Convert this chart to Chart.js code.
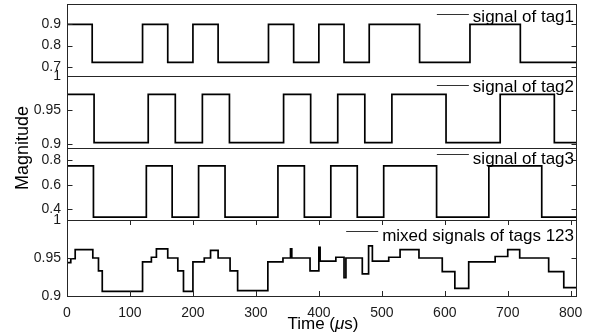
<!DOCTYPE html>
<html>
<head>
<meta charset="utf-8">
<script src="https://cdn.jsdelivr.net/npm/chart.js@4.4.1/dist/chart.umd.min.js"></script>
<style>
  body { margin: 0; background: #fff; }
  #wrap { width: 590px; height: 335px; }
</style>
</head>
<body>
<div id="wrap"><canvas id="tags" width="590" height="335"></canvas></div>
<script>
// time axis (microseconds)
const tEnd = 810;
const timeTicks = [0, 100, 200, 300, 400, 500, 600, 700, 800];

// tag 1: switching times and levels
const tag1Times = [0, 40, 120, 160, 200, 240, 320, 360, 400, 440, 480, 560, 640, 720];
const tag1Levels = [0.9, 0.72, 0.9, 0.72, 0.9, 0.72, 0.9, 0.72, 0.9, 0.72, 0.9, 0.72, 0.9, 0.72];
const tag1Ticks = [0.7, 0.8, 0.9];

// tag 2
const tag2Times = [0, 43, 129, 172, 215, 258, 344, 387, 430, 473, 516, 602, 688, 774];
const tag2Levels = [0.973, 0.902, 0.973, 0.902, 0.973, 0.902, 0.973, 0.902, 0.973, 0.902, 0.973, 0.902, 0.973, 0.902];
const tag2Ticks = [0.9, 0.95, 1];

// tag 3
const tag3Times = [0, 42, 126, 167, 209, 251, 335, 377, 419, 461, 503, 587, 670, 754];
const tag3Levels = [0.755, 0.335, 0.755, 0.335, 0.755, 0.335, 0.755, 0.335, 0.755, 0.335, 0.755, 0.335, 0.755, 0.335];
const tag3Ticks = [0.4, 0.6, 0.8];

// mixed signal of tags 1,2,3
const mixTimes = [0, 6, 13, 41, 50, 56, 120, 134, 142, 160, 176, 185, 200, 218, 228, 240, 259, 271,
  319, 343, 355, 357, 386, 400, 402, 427, 440, 443, 469, 479, 485, 511, 529, 559, 596, 616, 638,
  680, 700, 719, 765, 789];
const mixLevels = [0.944, 0.949, 0.961, 0.950, 0.933, 0.906, 0.945, 0.951, 0.962, 0.950, 0.933, 0.906,
  0.945, 0.950, 0.960, 0.950, 0.933, 0.907, 0.945, 0.950, 0.962, 0.950, 0.933, 0.964, 0.946, 0.951,
  0.924, 0.950, 0.929, 0.966, 0.946, 0.951, 0.961, 0.950, 0.932, 0.910, 0.945, 0.952, 0.961, 0.950,
  0.932, 0.911];
const mixTicks = [0.9, 0.95, 1];

const legendLabels = ['signal of tag1', 'signal of tag2', 'signal of tag3', 'mixed signals of tags 123'];

const FRAME = '#262626';
const FONT = '"Liberation Sans", Arial, sans-serif';
Chart.defaults.font.family = FONT;
Chart.defaults.color = '#1a1a1a';

// turn switching times into points for a stepped line
function steps(times, levels) {
  const pts = times.map((t, i) => ({ x: t, y: levels[i] }));
  pts.push({ x: tEnd, y: levels[levels.length - 1] });
  return pts;
}

function signal(times, levels, axis) {
  return {
    data: steps(times, levels),
    yAxisID: axis,
    borderColor: '#000',
    borderWidth: 1.7,
    pointRadius: 0,
    stepped: true,
    fill: false
  };
}

function yAxis(min, max, ticks, weight) {
  return {
    type: 'linear',
    position: 'left',
    stack: 'panels',
    stackWeight: weight,
    min: min,
    max: max,
    bounds: 'data',
    grid: { display: false, drawTicks: false },
    border: { display: false },
    ticks: {
      autoSkip: false,
      padding: 6,
      font: { size: 14 },
      callback: v => String(v)
    },
    afterBuildTicks: s => { s.ticks = ticks.map(v => ({ value: v })); },
    afterFit: s => { s.width = 67; s.paddingTop = 0; s.paddingBottom = 0; }
  };
}

// panel info used by the frame plugin, top to bottom
const panels = [
  { axis: 'y1', ticks: tag1Ticks, label: legendLabels[0], base: 17.5, line: 9.5 },
  { axis: 'y2', ticks: tag2Ticks, label: legendLabels[1], base: 16, line: 9 },
  { axis: 'y3', ticks: tag3Ticks, label: legendLabels[2], base: 16, line: 6 },
  { axis: 'y4', ticks: mixTicks, label: legendLabels[3], base: 21, line: 11 }
];

function seg(ctx, x1, y1, x2, y2) {
  ctx.beginPath();
  ctx.moveTo(x1, y1);
  ctx.lineTo(x2, y2);
  ctx.stroke();
}

const panelFrames = {
  id: 'panelFrames',
  afterDatasetsDraw(chart) {
    const { ctx, chartArea: a, scales } = chart;
    ctx.save();
    ctx.strokeStyle = FRAME;
    ctx.lineWidth = 1;
    const L = a.left + 0.5, R = a.right - 0.5;
    panels.forEach(p => {
      const s = scales[p.axis];
      ctx.strokeRect(L, Math.round(s.top) + 0.5, R - L, Math.round(s.bottom) - Math.round(s.top));
      // inward ticks on both sides
      p.ticks.forEach(v => {
        const y = Math.round(s.getPixelForValue(v)) + 0.5;
        seg(ctx, L, y, L + 5, y);
        seg(ctx, R - 5, y, R, y);
      });
    });
    // time ticks on the bottom panel, top and bottom edges
    const bottom = scales.y4;
    timeTicks.forEach(t => {
      const x = Math.round(scales.x.getPixelForValue(t)) + 0.5;
      seg(ctx, x, Math.round(bottom.top), x, Math.round(bottom.top) + 5);
      seg(ctx, x, Math.round(bottom.bottom), x, Math.round(bottom.bottom) - 5);
    });

    // legends, top right of each panel
    ctx.font = '17px ' + FONT;
    ctx.fillStyle = '#000';
    ctx.textAlign = 'right';
    ctx.textBaseline = 'alphabetic';
    ctx.strokeStyle = '#333';
    panels.forEach(p => {
      const s = scales[p.axis];
      const xr = a.right - 3;
      const w = ctx.measureText(p.label).width;
      ctx.fillText(p.label, xr, s.top + p.base);
      const ly = Math.round(s.top + p.line) + 0.5;
      seg(ctx, xr - w - 36, ly, xr - w - 4, ly);
    });

    // y title
    ctx.save();
    ctx.translate(28, 148);
    ctx.rotate(-Math.PI / 2);
    ctx.textAlign = 'center';
    ctx.font = '18px ' + FONT;
    ctx.fillText('Magnitude', 0, 0);
    ctx.restore();

    // x title with italic mu
    const parts = [['Time (', ''], ['\u03bc', 'italic '], ['s)', '']];
    let total = 0;
    parts.forEach(pt => { ctx.font = pt[1] + '17px ' + FONT; total += ctx.measureText(pt[0]).width; });
    let x = (a.left + a.right) / 2 + 1 - total / 2;
    ctx.textAlign = 'left';
    parts.forEach(pt => {
      ctx.font = pt[1] + '17px ' + FONT;
      ctx.fillText(pt[0], x, 329);
      x += ctx.measureText(pt[0]).width;
    });
    ctx.restore();
  }
};

new Chart(document.getElementById('tags'), {
  type: 'line',
  data: {
    datasets: [
      signal(tag1Times, tag1Levels, 'y1'),
      signal(tag2Times, tag2Levels, 'y2'),
      signal(tag3Times, tag3Levels, 'y3'),
      signal(mixTimes, mixLevels, 'y4')
    ]
  },
  options: {
    responsive: false,
    animation: false,
    devicePixelRatio: 1,
    layout: { padding: { left: 0, top: 4, right: 13, bottom: 0 } },
    scales: {
      x: {
        type: 'linear',
        min: 0,
        max: tEnd,
        bounds: 'data',
        grid: { display: false, drawTicks: false },
        border: { display: false },
        ticks: { autoSkip: false, padding: 9, font: { size: 14 }, maxRotation: 0 },
        afterBuildTicks: s => { s.ticks = timeTicks.map(v => ({ value: v })); },
        afterFit: s => { s.height = 39; s.paddingLeft = 0; s.paddingRight = 0; }
      },
      // bottom panel first: the last stacked axis ends up on top
      y4: yAxis(0.9, 1.0, mixTicks, 76),
      y3: yAxis(0.312, 0.902, tag3Ticks, 72),
      y2: yAxis(0.894, 1.0, tag2Ticks, 72),
      y1: yAxis(0.656, 0.996, tag1Ticks, 72)
    },
    plugins: {
      legend: { display: false },
      tooltip: { enabled: false }
    }
  },
  plugins: [panelFrames]
});
</script>
</body>
</html>
